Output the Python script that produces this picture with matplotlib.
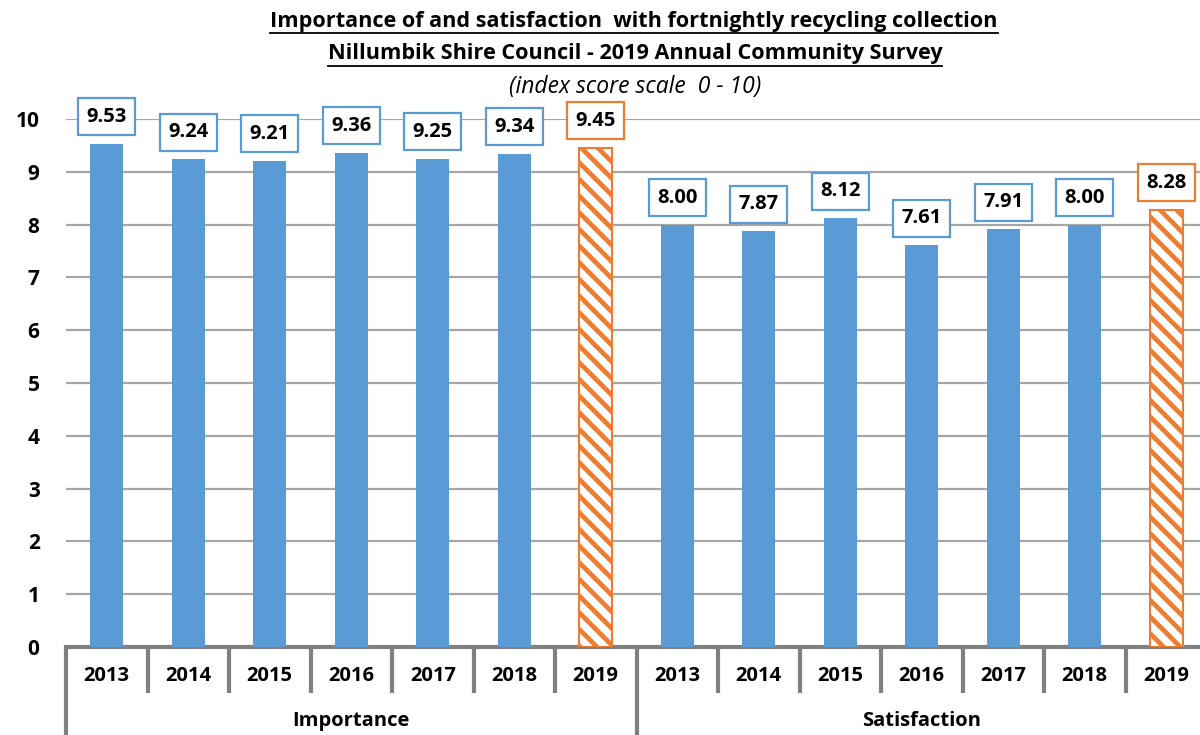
import matplotlib
matplotlib.use("Agg")
import matplotlib.pyplot as plt
from matplotlib import font_manager

years = ["2013", "2014", "2015", "2016", "2017", "2018", "2019"]
groups = ["Importance", "Satisfaction"]
importance = [9.53, 9.24, 9.21, 9.36, 9.25, 9.34, 9.45]
satisfaction = [8.00, 7.87, 8.12, 7.61, 7.91, 8.00, 8.28]
yticks = [0, 1, 2, 3, 4, 5, 6, 7, 8, 9, 10]

title1 = "Importance of and satisfaction  with fortnightly recycling collection"
title2 = "Nillumbik Shire Council - 2019 Annual Community Survey"
subtitle = "(index score scale  0 - 10)"

avail = {f.name for f in font_manager.fontManager.ttflist}
fam = [f for f in ["Open Sans", "DejaVu Sans"] if f in avail]
plt.rcParams['font.family'] = fam
plt.rcParams['hatch.linewidth'] = 3.4

BLUE = "#5B9BD5"
ORANGE = "#ED7D31"
GRID = "#A6A6A6"
AXIS = "#808080"

W, H = 1200, 735
fig = plt.figure(figsize=(12, 7.35), dpi=100)
x0, x1 = 66, 1207
y0, y1 = 647, 119
ax = fig.add_axes([x0 / W, (H - y0) / H, (x1 - x0) / W, (y0 - y1) / H])

values = importance + satisfaction
n = len(values)
xs = list(range(n))
ax.set_xlim(-0.5, n - 0.5)
ax.set_ylim(0, 10)

for i, v in enumerate(values):
    last = (i % len(years)) == len(years) - 1
    if last:
        ax.bar(i, v, width=0.4, facecolor="white", edgecolor=ORANGE, hatch="\\\\", linewidth=1.5, zorder=3)
    else:
        ax.bar(i, v, width=0.4, color=BLUE, zorder=3)
    ax.annotate(f"{v:.2f}", (i, v), xytext=(0, 19.5), textcoords="offset points",
                ha="center", va="center", fontsize=14.5, fontweight="bold", zorder=5,
                annotation_clip=False,
                bbox=dict(boxstyle="square,pad=0.42", fc="white",
                          ec=ORANGE if last else BLUE, lw=1.6))

ax.set_yticks(yticks)
ax.set_yticklabels([str(t) for t in yticks], fontsize=15, fontweight="bold")
ax.tick_params(axis="y", length=0, pad=19)
ax.grid(axis="y", color=GRID, lw=1.6, zorder=0)
ax.set_axisbelow(True)
for s in ["top", "right", "left"]:
    ax.spines[s].set_visible(False)
ax.spines["bottom"].set_color(AXIS)
ax.spines["bottom"].set_linewidth(3)
ax.set_xticks([])

trans = ax.get_xaxis_transform()
ph = y0 - y1
short = -(693 - y0) / ph
long_ = -(740 - y0) / ph
for k in range(n + 1):
    b = k - 0.5
    low = long_ if k % len(years) == 0 else short
    ax.plot([b, b], [0, low], transform=trans, color=AXIS, lw=3, clip_on=False, solid_capstyle="butt")
for i in xs:
    ax.text(i, -(676 - y0) / ph, years[i % len(years)], transform=trans, ha="center", va="center",
            fontsize=14.5, fontweight="bold")
for g, name in enumerate(groups):
    c = g * len(years) + (len(years) - 1) / 2
    ax.text(c, -(721 - y0) / ph, name, transform=trans, ha="center", va="center",
            fontsize=14.5, fontweight="bold")

fig.text(634 / W, 1 - 21 / H, title1, ha="center", va="center", fontsize=15.6, fontweight="bold")
fig.text(635 / W, 1 - 54 / H, title2, ha="center", va="center", fontsize=15.6, fontweight="bold")
fig.text(635 / W, 1 - 87 / H, subtitle, ha="center", va="center", fontsize=16.5, style="italic")

# underline titles
fig.canvas.draw()
r = fig.canvas.get_renderer()
for t in fig.texts[:2]:
    bb = t.get_window_extent(r)
    yline = bb.y0 - 1
    fig.add_artist(plt.Line2D([bb.x0 / W, bb.x1 / W], [yline / H, yline / H], color="black", lw=1.3))

fig.savefig("out.png", dpi=100)
